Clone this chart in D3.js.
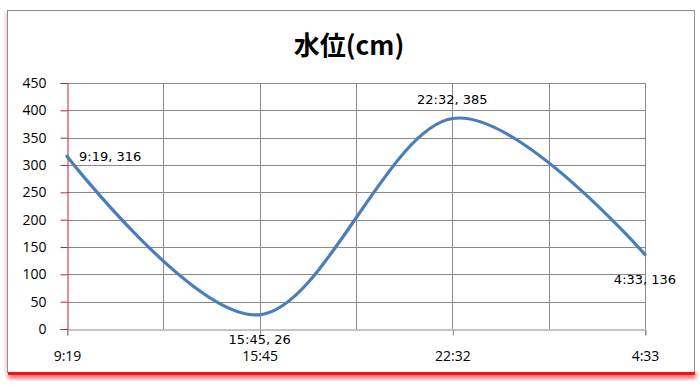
<!DOCTYPE html>
<html>
<head>
<meta charset="utf-8">
<script src="https://cdn.jsdelivr.net/npm/d3@7"></script>
<style>
  body { margin: 0; background: #fff; }
  svg { display: block; }
</style>
</head>
<body>
<svg id="chart" width="700" height="387"></svg>
<script>
// water level data
const times = ["9:19", "15:45", "22:32", "4:33"];
const levels = [316, 26, 385, 136];
const yTicks = [0, 50, 100, 150, 200, 250, 300, 350, 400, 450];
// where each data label sits around its point
const labelPlace = ["right", "below", "above", "below"];

const svg = d3.select("#chart");
const margin = {top: 83, right: 55, bottom: 58, left: 67};
const W = 700, H = 387;

// frame with red shadow at the bottom / left
const defs = svg.append("defs");
const blur = defs.append("filter").attr("id", "glow")
    .attr("x", "-10%").attr("y", "-50%").attr("width", "120%").attr("height", "200%");
blur.append("feGaussianBlur").attr("stdDeviation", 2);

svg.append("rect")
    .attr("x", 5).attr("y", 12).attr("width", 3).attr("height", 360)
    .attr("fill", "#f4b8c0").attr("filter", "url(#glow)");
svg.append("rect")
    .attr("x", 8).attr("y", 373).attr("width", 688).attr("height", 5)
    .attr("fill", "#ff4a4a").attr("filter", "url(#glow)");
svg.append("rect")
    .attr("x", 7.5).attr("y", 10.5).attr("width", 687).attr("height", 362)
    .attr("fill", "#fff").attr("stroke", "#8c8c8c").attr("stroke-width", 1);
svg.append("line")
    .attr("x1", 8).attr("x2", 695).attr("y1", 373.5).attr("y2", 373.5)
    .attr("stroke", "#e81818").attr("stroke-width", 3);

// title
svg.append("text")
    .attr("x", 349).attr("y", 55)
    .attr("text-anchor", "middle")
    .style("font-family", "'Noto Sans CJK JP', 'Noto Sans', sans-serif")
    .style("font-weight", "bold")
    .style("font-size", "26px")
    .attr("fill", "#000")
    .text("水位(cm)");

let x = d3.scaleLinear()
    .domain([0, times.length - 1])
    .range([margin.left, W - margin.right]);
let y = d3.scaleLinear()
    .domain([0, 450])
    .range([H - margin.bottom, margin.top]);

// gridlines
let grid = svg.append("g").attr("class", "grid");
grid.selectAll(".hgrid")
    .data(yTicks.slice(1))
    .enter().append("line")
    .attr("x1", x(0)).attr("x2", x(3))
    .attr("y1", d => Math.round(y(d)) + 0.5).attr("y2", d => Math.round(y(d)) + 0.5)
    .attr("stroke", "#8a8a8a");
grid.selectAll(".vgrid")
    .data(d3.range(0.5, 3.01, 0.5))
    .enter().append("line")
    .attr("x1", d => Math.round(x(d)) + 0.5).attr("x2", d => Math.round(x(d)) + 0.5)
    .attr("y1", y(450)).attr("y2", y(0))
    .attr("stroke", "#8a8a8a");

// x axis (grey)
let xAxis = d3.axisBottom(x)
    .tickValues(d3.range(times.length))
    .tickFormat((d, i) => times[i])
    .tickSize(6);
let xAxisG = svg.append("g")
    .attr("transform", "translate(0," + (Math.round(y(0)) + 0.5) + ")")
    .call(xAxis);
xAxisG.select(".domain").attr("stroke", "#8a8a8a");
xAxisG.selectAll(".tick line").attr("stroke", "#8a8a8a")
    .attr("transform", "translate(0.5,0)");
xAxisG.selectAll(".tick text")
    .attr("y", 22)
    .style("font-family", "'Open Sans', sans-serif")
    .style("font-size", "14px")
    .attr("fill", "#000");

// y axis (red)
let yAxis = d3.axisLeft(y)
    .tickValues(yTicks)
    .tickSize(7)
    .tickPadding(14);
let yAxisG = svg.append("g")
    .attr("transform", "translate(" + (Math.round(x(0)) + 0.5) + ",0)")
    .call(yAxis);
yAxisG.select(".domain").attr("stroke", "#c0282e");
yAxisG.selectAll(".tick line").attr("stroke", "#c0282e");
yAxisG.selectAll(".tick text")
    .style("font-family", "'Open Sans', sans-serif")
    .style("font-size", "14px")
    .attr("fill", "#000");

// smoothed line
let line = d3.line()
    .x((d, i) => x(i))
    .y(d => y(d))
    .curve(d3.curveCardinal.tension(0));
svg.append("path")
    .datum(levels)
    .attr("d", line)
    .attr("fill", "none")
    .attr("stroke", "#4a7ebb")
    .attr("stroke-width", 3.2)
    .attr("stroke-linecap", "round");

// data labels
svg.selectAll(".dlabel")
    .data(levels)
    .enter().append("text")
    .attr("class", "dlabel")
    .attr("x", (d, i) => labelPlace[i] === "right" ? x(i) + 12 : x(i))
    .attr("y", (d, i) => {
        if (labelPlace[i] === "right") return y(d) + 5;
        if (labelPlace[i] === "above") return y(d) - 15;
        return y(d) + 29;
    })
    .attr("text-anchor", (d, i) => labelPlace[i] === "right" ? "start" : "middle")
    .style("font-family", "'DejaVu Sans', sans-serif")
    .style("font-size", "13px")
    .attr("fill", "#000")
    .text((d, i) => times[i] + ", " + d);
</script>
</body>
</html>
